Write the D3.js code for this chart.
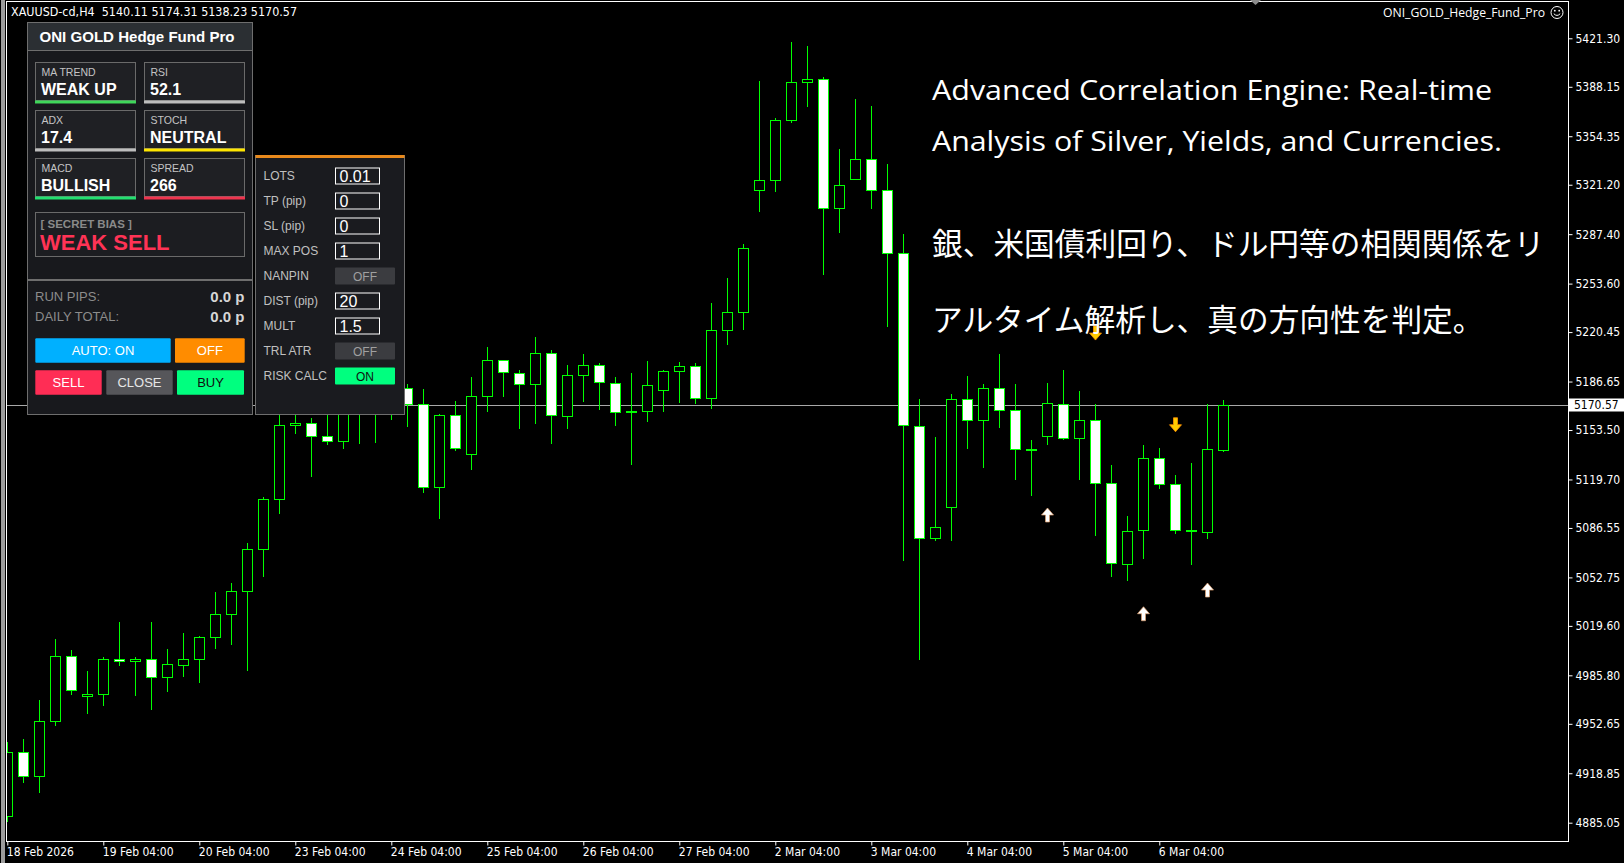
<!DOCTYPE html>
<html><head><meta charset="utf-8">
<script src="https://cdn.jsdelivr.net/npm/d3@7"></script>
<style>
html,body{margin:0;padding:0;background:#000;overflow:hidden;}
svg{display:block;}
</style></head><body>
<svg id="c" width="1624" height="863"></svg>
<script>
// ---------- DATA ----------
const opens  = [4889.4,4933.2,4916.7,4954.4,4998.8,4971.4,4972.8,4996.7,4995.4,4996.7,4984.4,4992.6,4996.7,5011.8,5027.5,5043.2,5072.4,5106.1,5156.7,5158.1,5149.2,5145.8,5178.0,5170.0,5176.0,5182.0,5171.1,5114.5,5163.6,5136.9,5176.5,5201.2,5192.3,5184.8,5205.9,5162.9,5190.9,5197.7,5185.4,5166.3,5166.3,5180.6,5193.6,5197.1,5175.2,5222.1,5234.2,5317.3,5324.3,5365.3,5391.3,5393.2,5305.6,5324.8,5339.1,5317.3,5274.3,5156.4,5079.5,5101.1,5174.5,5160.1,5182.0,5167.0,5140.0,5149.6,5171.1,5147.8,5160.1,5117.1,5061.7,5085.3,5134.2,5116.4,5084.9,5084.0,5140.11];
const highs  = [4940.0,4942.3,4968.9,5010.4,5003.1,4988.7,4998.3,5022.2,4998.3,5022.2,5003.8,5014.7,5013.0,5042.8,5048.7,5076.0,5107.5,5168.0,5172.0,5161.5,5166.0,5188.0,5192.0,5190.0,5195.0,5185.0,5181.3,5164.5,5173.3,5189.7,5210.3,5201.5,5194.3,5217.1,5208.2,5197.9,5205.5,5199.3,5189.7,5192.5,5200.7,5194.5,5200.0,5199.0,5240.3,5257.3,5280.7,5392.1,5366.7,5418.9,5416.1,5394.6,5345.5,5379.8,5375.1,5335.4,5287.4,5174.7,5148.7,5178.1,5190.4,5185.0,5205.5,5185.0,5146.7,5185.6,5194.5,5180.2,5171.3,5129.4,5094.7,5143.3,5141.2,5122.5,5130.9,5171.3,5174.31];
const lows   = [4885.7,4912.4,4905.5,4951.3,4972.5,4959.6,4965.0,4992.4,4971.9,4962.3,4974.6,4984.8,4980.7,5004.0,5006.5,4988.9,5053.0,5096.1,5150.8,5121.6,5143.0,5140.7,5144.1,5144.4,5160.3,5155.8,5110.2,5092.7,5139.4,5126.2,5166.0,5176.3,5154.4,5157.8,5144.1,5154.4,5172.9,5167.4,5156.4,5129.8,5159.2,5166.0,5172.2,5171.5,5168.0,5211.8,5222.1,5302.3,5315.9,5363.1,5374.5,5259.5,5288.3,5324.5,5304.7,5224.1,5063.7,4996.3,5077.8,5077.8,5140.7,5127.7,5155.1,5119.5,5108.6,5143.5,5147.0,5119.5,5081.2,5053.2,5050.5,5065.5,5113.4,5082.6,5061.4,5079.2,5138.23];
const closes = [4933.2,4916.7,4954.4,4998.8,4975.5,4972.8,4996.7,4995.4,4996.9,4984.4,4993.3,4996.7,5011.8,5027.5,5043.2,5072.4,5106.1,5156.7,5158.3,5149.2,5145.8,5178.0,5170.0,5176.0,5182.0,5171.1,5114.5,5163.6,5141.0,5176.5,5201.2,5193.0,5184.8,5205.9,5163.6,5190.9,5197.7,5186.1,5165.6,5165.6,5184.1,5193.6,5197.1,5175.2,5222.1,5234.2,5277.7,5324.3,5365.3,5391.3,5393.2,5305.6,5320.7,5339.1,5317.3,5274.3,5156.9,5079.5,5087.0,5174.5,5160.1,5182.0,5167.0,5140.3,5140.5,5171.8,5147.8,5160.1,5117.1,5062.4,5084.3,5134.2,5116.4,5084.9,5085.4,5140.3,5170.57];

const timeTickIdx    = [0,6,12,18,24,30,36,42,48,54,60,66,72];
const timeTickLabels = ["18 Feb 2026","19 Feb 04:00","20 Feb 04:00","23 Feb 04:00","24 Feb 04:00","25 Feb 04:00","26 Feb 04:00","27 Feb 04:00","2 Mar 04:00","3 Mar 04:00","4 Mar 04:00","5 Mar 04:00","6 Mar 04:00"];
const priceTicks = [5421.30,5388.15,5354.35,5321.20,5287.40,5253.60,5220.45,5186.65,5153.50,5119.70,5086.55,5052.75,5019.60,4985.80,4952.65,4918.85,4885.05];
const currentPrice = 5170.57;
const upArrowIdx = [65,71,75];
const upArrowPrice = [5100.2,5032.7,5048.9];
const downArrowIdx = [68,73];
const downArrowPrice = [5215.0,5152.3];

const headerText = "XAUUSD-cd,H4  5140.11 5174.31 5138.23 5170.57";
const eaName = "ONI_GOLD_Hedge_Fund_Pro";
const overlayEn = ["Advanced Correlation Engine: Real-time","Analysis of Silver, Yields, and Currencies."];
const overlayJa = ["銀、米国債利回り、ドル円等の相関関係をリ","アルタイム解析し、真の方向性を判定。"];

const panelTitle = "ONI GOLD Hedge Fund Pro";
const tileLabels = ["MA TREND","RSI","ADX","STOCH","MACD","SPREAD"];
const tileValues = ["WEAK UP","52.1","17.4","NEUTRAL","BULLISH","266"];
const tileColors = ["#3fd65a","#bdbdbd","#bdbdbd","#ffe600","#22e070","#f0344e"];
const biasLabel = "[ SECRET BIAS ]";
const biasValue = "WEAK SELL";
const statLabels = ["RUN PIPS:","DAILY TOTAL:"];
const statValues = ["0.0 p","0.0 p"];
const buttonRow1 = [{t:"AUTO: ON",bg:"#00b0ff",fg:"#ffffff"},{t:"OFF",bg:"#ff8c00",fg:"#ffffff"}];
const buttonRow2 = [{t:"SELL",bg:"#ff2d55",fg:"#ffffff"},{t:"CLOSE",bg:"#56565a",fg:"#e6e6e6"},{t:"BUY",bg:"#00ff7f",fg:"#101010"}];
const paramLabels = ["LOTS","TP (pip)","SL (pip)","MAX POS","NANPIN","DIST (pip)","MULT","TRL ATR","RISK CALC"];
const paramValues = ["0.01","0","0","1","OFF","20","1.5","OFF","ON"];
const paramKinds  = ["input","input","input","input","off","input","input","off","on"];

// ---------- LAYOUT ----------
const svg = d3.select("#c");
const L = 6.5, R = 1568.5, T = 1.5, B = 841.5;
const x = d3.scaleLinear().domain([0, 76]).range([7.3, 1223.3]);
const y = d3.scaleLinear().domain([4885.05, 5421.30]).range([822.7, 38.3]);
const GREEN = "#00ff00";
const axisFont = "'DejaVu Sans Condensed','DejaVu Sans',sans-serif";
const uiFont = "'Liberation Sans',Arial,sans-serif";

svg.append("rect").attr("width",1624).attr("height",863).attr("fill","#000");
svg.append("rect").attr("x",1).attr("y",0).attr("width",4).attr("height",863).attr("fill","#9c9c9c");

svg.append("defs").append("clipPath").attr("id","plot")
  .append("rect").attr("x",L+0.5).attr("y",T+0.5).attr("width",R-L-1).attr("height",B-T-1);

const plot = svg.append("g").attr("clip-path","url(#plot)");

// current price line
plot.append("line").attr("x1",L).attr("x2",R)
  .attr("y1",Math.round(y(currentPrice))+0.5).attr("y2",Math.round(y(currentPrice))+0.5)
  .attr("stroke","#a8a8a8").attr("stroke-width",1);

// candles
const idx = d3.range(opens.length);
const cg = plot.append("g");
idx.forEach(i=>{
  const cx = Math.floor(x(i)) + 0.5;
  const o = opens[i], c = closes[i], h = highs[i], l = lows[i];
  cg.append("line").attr("x1",cx).attr("x2",cx)
    .attr("y1",Math.round(y(h))).attr("y2",Math.round(y(l)))
    .attr("stroke",GREEN).attr("stroke-width",1).attr("shape-rendering","crispEdges");
  const top = Math.round(y(Math.max(o,c))) + 0.5;
  const bot = Math.round(y(Math.min(o,c))) + 0.5;
  cg.append("rect").attr("x",cx-5).attr("width",10)
    .attr("y",top).attr("height",Math.max(bot-top,1))
    .attr("fill", c >= o ? "#000000" : "#ffffff")
    .attr("stroke",GREEN).attr("stroke-width",1).attr("shape-rendering","crispEdges");
});

// arrows
upArrowIdx.forEach((ii,k)=>{
  const tx = Math.floor(x(ii))+0.5, ty = y(upArrowPrice[k]);
  plot.append("path")
    .attr("d",`M${tx},${ty} L${tx+6},${ty+7} L${tx+2},${ty+7} L${tx+2},${ty+14} L${tx-2},${ty+14} L${tx-2},${ty+7} L${tx-6},${ty+7} Z`)
    .attr("fill","#ffffff").attr("stroke","#e0a070").attr("stroke-width",0.7);
});
downArrowIdx.forEach((ii,k)=>{
  const tx = Math.floor(x(ii))+0.5, ty = y(downArrowPrice[k]);
  plot.append("path")
    .attr("d",`M${tx},${ty} L${tx+6},${ty-7} L${tx+2},${ty-7} L${tx+2},${ty-14} L${tx-2},${ty-14} L${tx-2},${ty-7} L${tx-6},${ty-7} Z`)
    .attr("fill","#ffcc00").attr("stroke","#ff9000").attr("stroke-width",0.8);
});

// frame
svg.append("path").attr("d",`M${L},${T} H${R} V${B} H${L} Z`)
  .attr("fill","none").attr("stroke","#ffffff").attr("stroke-width",1).attr("shape-rendering","crispEdges");

// price axis
const yAxis = d3.axisRight(y).tickValues(priceTicks).tickFormat(d3.format(".2f")).tickSize(4).tickPadding(3);
const ya = svg.append("g").attr("transform",`translate(${R},0)`).call(yAxis);
ya.select(".domain").remove();
ya.selectAll(".tick line").attr("stroke","#ffffff");
ya.selectAll(".tick text").attr("fill","#ffffff").style("font-family",axisFont).style("font-size","12px").style("font-stretch","condensed");

// current price label
const cpY = Math.round(y(currentPrice));
svg.append("rect").attr("x",1569).attr("y",cpY-6.5).attr("width",55).attr("height",13).attr("fill","#ffffff");
svg.append("text").attr("x",1574).attr("y",cpY).attr("dy","0.35em").text(d3.format(".2f")(currentPrice))
  .attr("fill","#000").style("font-family",axisFont).style("font-size","12px").style("font-stretch","condensed");

// time axis
const xAxis = d3.axisBottom(x).tickValues(timeTickIdx).tickFormat((d,i)=>timeTickLabels[i]).tickSize(4).tickSizeOuter(0);
const xa = svg.append("g").attr("transform",`translate(0,${B})`).call(xAxis);
xa.select(".domain").remove();
xa.selectAll(".tick line").attr("stroke","#ffffff");
xa.selectAll(".tick text").attr("fill","#ffffff").attr("text-anchor","start").attr("x",-1).attr("y",6)
  .style("font-family",axisFont).style("font-size","12px").style("font-stretch","condensed");

// chart shift marker
svg.append("path").attr("d","M1250,0 L1261,0 L1255.5,5 Z").attr("fill","#8c8c8c");

// header texts
svg.append("text").attr("x",11).attr("y",16).text(headerText).style("white-space","pre")
  .attr("fill","#fff").style("font-family",axisFont).style("font-size","12px")
  .attr("textLength",286).attr("lengthAdjust","spacingAndGlyphs");
svg.append("text").attr("x",1383).attr("y",17).text(eaName)
  .attr("fill","#fff").style("font-family","'Open Sans','DejaVu Sans',sans-serif").style("font-size","12px")
  .attr("textLength",162).attr("lengthAdjust","spacingAndGlyphs");
const sm = svg.append("g").attr("transform","translate(1557,12.5)");
sm.append("circle").attr("r",6).attr("fill","none").attr("stroke","#fff").attr("stroke-width",1);
sm.append("circle").attr("cx",-2.2).attr("cy",-1.8).attr("r",0.9).attr("fill","#fff");
sm.append("circle").attr("cx",2.2).attr("cy",-1.8).attr("r",0.9).attr("fill","#fff");
sm.append("path").attr("d","M-3.2,1.2 Q0,4.6 3.2,1.2").attr("fill","none").attr("stroke","#fff").attr("stroke-width",1);

// overlay texts
const enY = [100,151], jaY = [254.5,330.5];
const enW = [560,570];
overlayEn.forEach((t,k)=>{
  svg.append("text").attr("x",932).attr("y",enY[k]).text(t).attr("fill","#fff")
    .style("font-family","'Open Sans','Noto Sans',sans-serif").style("font-size","28px")
    .attr("textLength",enW[k]).attr("lengthAdjust","spacingAndGlyphs");
});
overlayJa.forEach((t,k)=>{
  svg.append("text").attr("x",932).attr("y",jaY[k]).text(t).attr("fill","#fff")
    .style("font-family","'Noto Sans CJK JP',sans-serif").style("font-size","30.7px");
});

// ---------- PANEL 1 ----------
const p1 = svg.append("g");
p1.append("rect").attr("x",27.5).attr("y",22.5).attr("width",225).attr("height",392)
  .attr("fill","#18191d").attr("stroke","#6e6e6e").attr("stroke-width",1);
p1.append("rect").attr("x",28).attr("y",23).attr("width",224).attr("height",27).attr("fill","#2b2f33");
p1.append("line").attr("x1",28).attr("x2",252).attr("y1",50.5).attr("y2",50.5).attr("stroke","#6e6e6e");
p1.append("text").attr("x",39.5).attr("y",41.5).text(panelTitle).attr("fill","#fff")
  .style("font-family",uiFont).style("font-weight","bold").style("font-size","15px")
  .attr("textLength",195).attr("lengthAdjust","spacingAndGlyphs");

tileLabels.forEach((lab,k)=>{
  const col = k%2, row = Math.floor(k/2);
  const tx = col===0 ? 35.5 : 144.5, ty = 62.5 + row*48;
  p1.append("rect").attr("x",tx).attr("y",ty).attr("width",100).attr("height",38)
    .attr("fill","#1f2024").attr("stroke","#6a6a6a");
  p1.append("rect").attr("x",tx-0.5).attr("y",ty+38).attr("width",101).attr("height",3).attr("fill",tileColors[k]);
  p1.append("text").attr("x",tx+6).attr("y",ty+13.5).text(lab).attr("fill","#c4c4c4")
    .style("font-family",uiFont).style("font-size","10.5px");
  p1.append("text").attr("x",tx+5.5).attr("y",ty+32).text(tileValues[k]).attr("fill","#ffffff")
    .style("font-family",uiFont).style("font-weight","bold").style("font-size","16px");
});

p1.append("rect").attr("x",35.5).attr("y",212.5).attr("width",209).attr("height",44)
  .attr("fill","#1c1d21").attr("stroke","#6a6a6a");
p1.append("text").attr("x",40.5).attr("y",227.5).text(biasLabel).attr("fill","#8a8a8a")
  .style("font-family",uiFont).style("font-weight","bold").style("font-size","11.5px");
p1.append("text").attr("x",40).attr("y",250).text(biasValue).attr("fill","#ff3355")
  .style("font-family",uiFont).style("font-weight","bold").style("font-size","22px");

p1.append("line").attr("x1",28).attr("x2",252).attr("y1",280).attr("y2",280).attr("stroke","#6e6e6e").attr("stroke-width",2);

statLabels.forEach((lab,k)=>{
  const by = 300.5 + k*20;
  p1.append("text").attr("x",35).attr("y",by).text(lab).attr("fill","#8c8c8c")
    .style("font-family",uiFont).style("font-size","13px");
  p1.append("text").attr("x",244.5).attr("y",by+1).text(statValues[k]).attr("fill","#d6d6d6")
    .attr("text-anchor","end").style("font-family",uiFont).style("font-weight","bold").style("font-size","15px");
});

const r1x = [[35.3,170.7],[175,244.7]];
buttonRow1.forEach((b,k)=>{
  const [a,e] = r1x[k];
  p1.append("rect").attr("x",a).attr("y",338.3).attr("width",e-a).attr("height",24.4).attr("rx",1).attr("fill",b.bg);
  p1.append("text").attr("x",(a+e)/2).attr("y",355).text(b.t).attr("fill",b.fg).attr("text-anchor","middle")
    .style("font-family",uiFont).style("font-size","13px");
});
const r2x = [[35.3,101.7],[106.3,172.7],[177,244]];
buttonRow2.forEach((b,k)=>{
  const [a,e] = r2x[k];
  p1.append("rect").attr("x",a).attr("y",370.3).attr("width",e-a).attr("height",24.4).attr("rx",1).attr("fill",b.bg);
  p1.append("text").attr("x",(a+e)/2).attr("y",387).text(b.t).attr("fill",b.fg).attr("text-anchor","middle")
    .style("font-family",uiFont).style("font-size","13px");
});

// ---------- PANEL 2 ----------
const p2 = svg.append("g");
p2.append("rect").attr("x",255.5).attr("y",155.5).attr("width",149).attr("height",259)
  .attr("fill","#1a1b1f").attr("stroke","#6e6e6e");
p2.append("rect").attr("x",255.5).attr("y",155).attr("width",149).attr("height",3).attr("fill","#e8891c");
paramLabels.forEach((lab,k)=>{
  const cy = 176 + k*25;
  p2.append("text").attr("x",263.5).attr("y",cy+4).text(lab).attr("fill","#c0c0c0")
    .style("font-family",uiFont).style("font-size","12px");
  const kind = paramKinds[k];
  if (kind==="input"){
    p2.append("rect").attr("x",335.5).attr("y",cy-8).attr("width",44).attr("height",16)
      .attr("fill","#1a1b1f").attr("stroke","#ffffff");
    p2.append("text").attr("x",339.5).attr("y",cy+6).text(paramValues[k]).attr("fill","#ffffff")
      .style("font-family",uiFont).style("font-size","16px");
  } else {
    const on = kind==="on";
    p2.append("rect").attr("x",335).attr("y",cy-8.5).attr("width",60).attr("height",17).attr("rx",1)
      .attr("fill", on ? "#00ff7f" : "#3b3c40");
    p2.append("text").attr("x",365).attr("y",cy+4.5).text(paramValues[k]).attr("text-anchor","middle")
      .attr("fill", on ? "#101010" : "#a0a0a0").style("font-family",uiFont).style("font-size","12px");
  }
});
</script>
</body></html>
